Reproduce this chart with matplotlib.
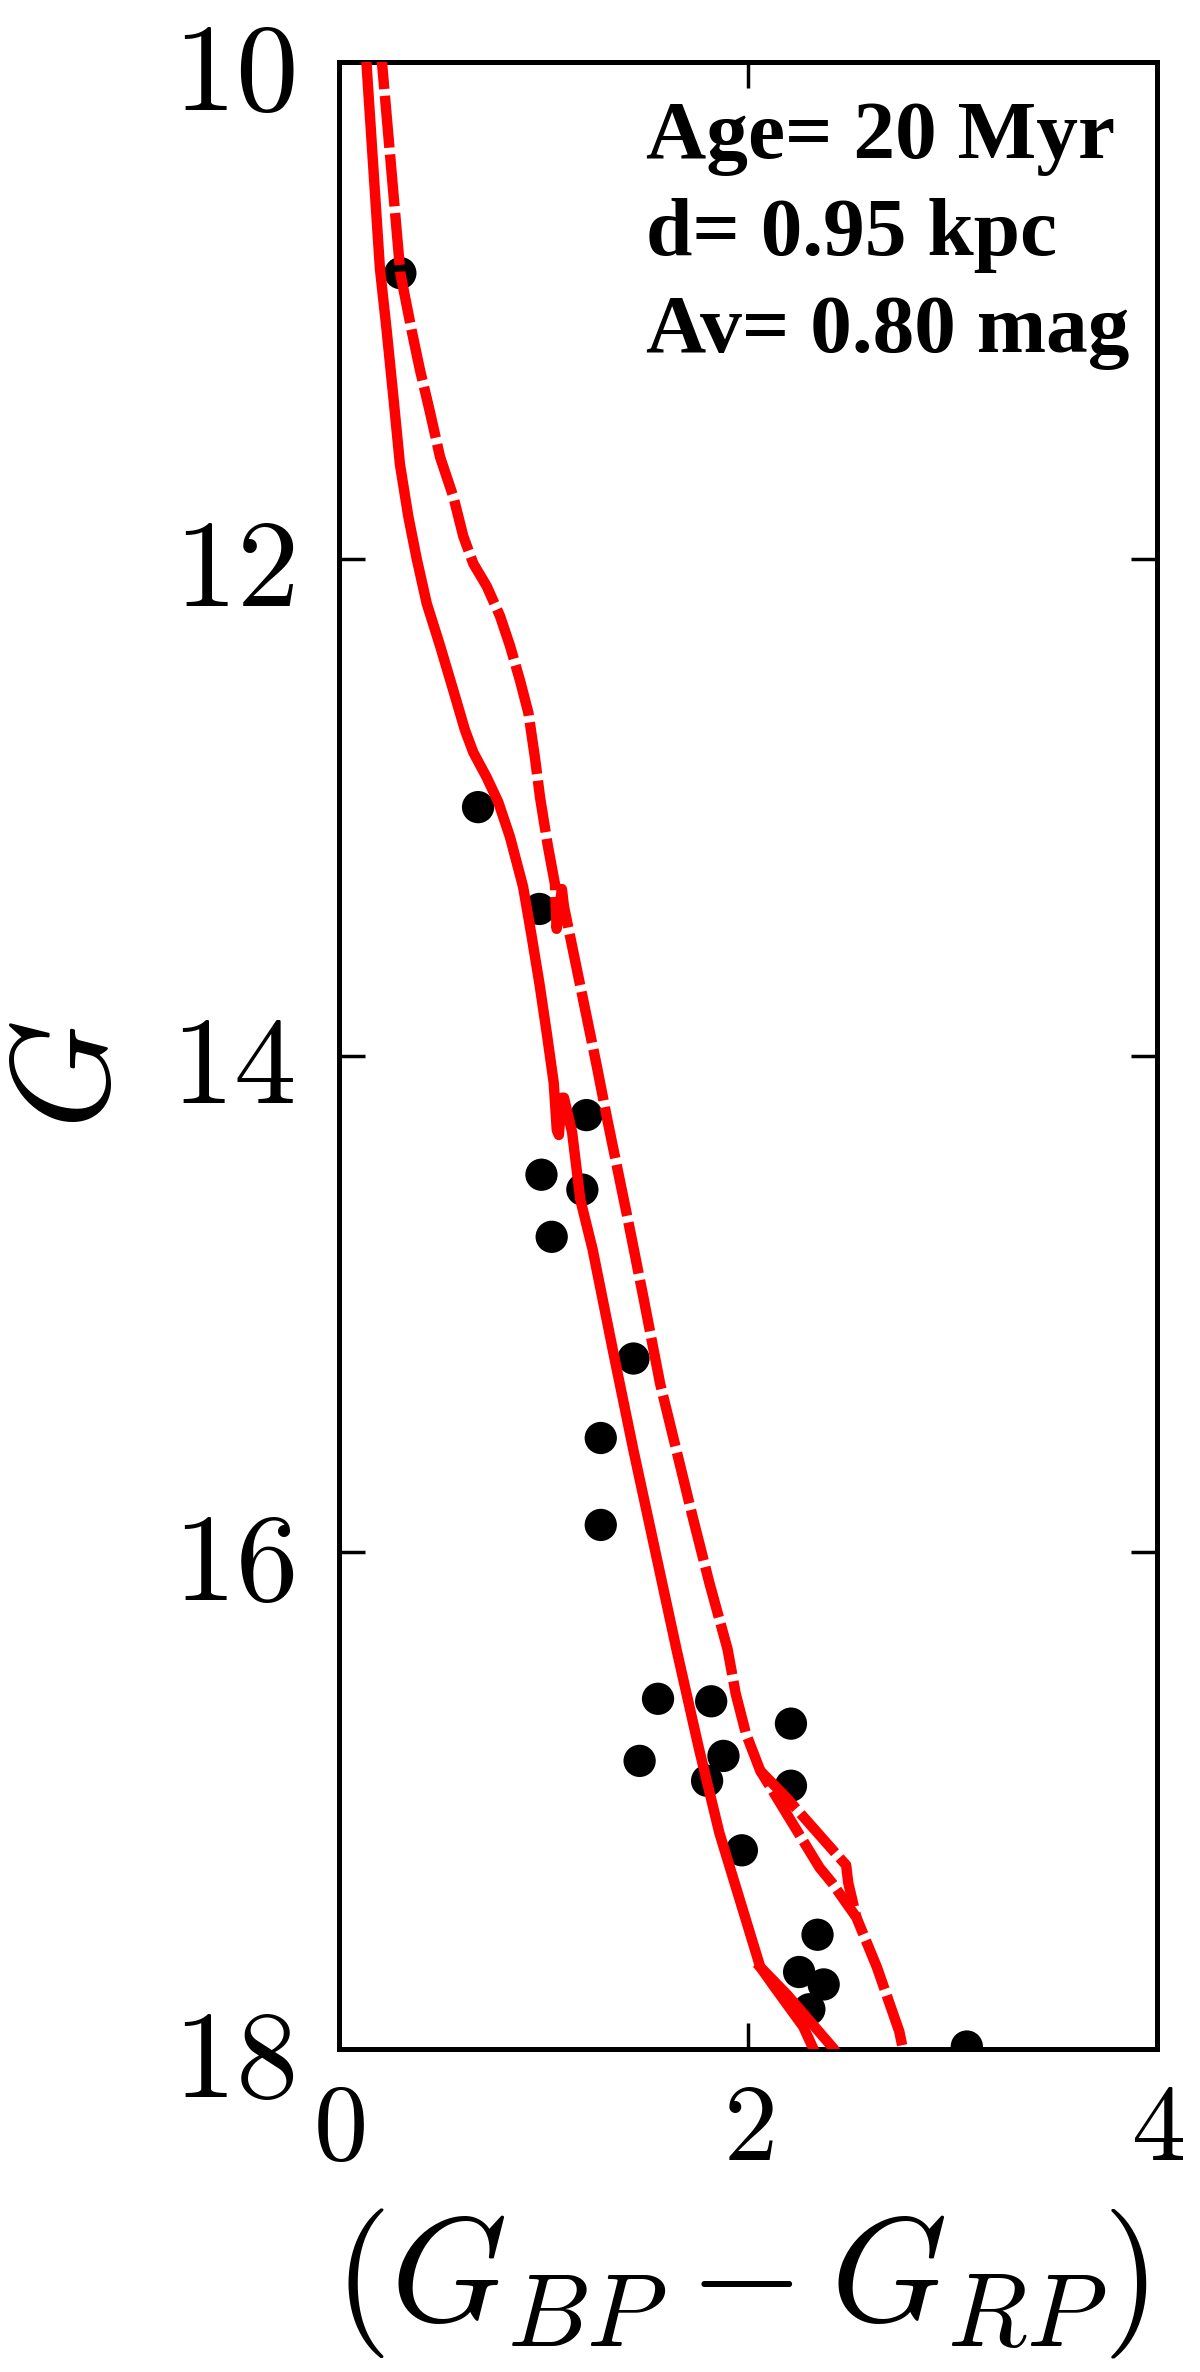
import matplotlib
matplotlib.use("Agg")
import matplotlib.pyplot as plt

# ---------------- data ----------------
# observed stars: colour (G_BP - G_RP) and G magnitude
star_color = [0.30, 0.68, 0.98, 1.21, 0.99, 1.19, 1.04, 1.44, 1.28, 1.28,
              1.56, 1.82, 2.21, 1.47, 1.88, 1.80, 2.21, 1.97, 2.34, 2.25,
              2.37, 2.30, 3.07]
star_mag = [10.85, 13.00, 13.41, 14.24, 14.48, 14.54, 14.73, 15.22, 15.54, 15.89,
            16.59, 16.60, 16.69, 16.84, 16.82, 16.92, 16.94, 17.20, 17.54, 17.69,
            17.74, 17.84, 17.99]

# isochrone (solid) - main track
iso_color = [0.13, 0.134, 0.20, 0.233, 0.266, 0.298, 0.339, 0.38, 0.429, 0.494,
             0.559, 0.616, 0.657, 0.722, 0.779, 0.836, 0.90, 0.94, 0.98, 1.016,
             1.05, 1.065, 1.075, 1.09, 1.10, 1.14, 1.18, 1.24, 1.34, 1.44,
             1.545, 1.65, 1.76, 1.86, 1.96, 2.06, 2.12, 2.27, 2.32, 2.35]
iso_mag = [9.9, 10.0, 10.83, 11.08, 11.35, 11.62, 11.83, 12.00, 12.18, 12.35,
           12.53, 12.69, 12.78, 12.88, 12.98, 13.12, 13.32, 13.51, 13.71, 13.91,
           14.11, 14.30, 14.32, 14.17, 14.17, 14.31, 14.58, 14.78, 15.19, 15.59,
           15.99, 16.39, 16.79, 17.13, 17.40, 17.67, 17.74, 17.91, 18.0, 18.05]
# isochrone (solid) - second branch
iso2_color = [2.06, 2.19, 2.42, 2.45]
iso2_mag = [17.67, 17.78, 18.0, 18.04]

# binary sequence (dashed) - main track
bin_color = [0.20, 0.21, 0.30, 0.355, 0.396, 0.445, 0.494, 0.559, 0.608, 0.657,
             0.722, 0.787, 0.836, 0.885, 0.926, 0.958, 0.983, 1.02, 1.056, 1.064,
             1.09, 1.10, 1.16, 1.21, 1.26, 1.31, 1.36, 1.41, 1.49, 1.57,
             1.65, 1.73, 1.81, 1.90, 1.94, 1.99, 2.06, 2.12, 2.35, 2.41,
             2.53, 2.63, 2.74, 2.77]
bin_mag = [9.9, 10.0, 10.85, 11.08, 11.24, 11.41, 11.59, 11.75, 11.91, 12.02,
           12.11, 12.23, 12.35, 12.49, 12.62, 12.80, 12.96, 13.15, 13.31, 13.49,
           13.33, 13.40, 13.64, 13.84, 14.04, 14.25, 14.45, 14.65, 14.98, 15.32,
           15.59, 15.86, 16.12, 16.39, 16.57, 16.73, 16.88, 16.96, 17.27, 17.33,
           17.47, 17.67, 17.93, 18.05]
# binary sequence (dashed) - second branch
bin2_color = [2.06, 2.19, 2.48, 2.49, 2.53]
bin2_mag = [16.88, 16.99, 17.26, 17.33, 17.47]

x_ticks = [0, 2, 4]
y_ticks = [10, 12, 14, 16, 18]
x_ticklabels = [r"$0$", r"$2$", r"$4$"]
y_ticklabels = [r"$10$", r"$12$", r"$14$", r"$16$", r"$18$"]
info_lines = ["Age= 20 Myr", "d= 0.95 kpc", "Av= 0.80 mag"]

# ---------------- figure ----------------
plt.rcParams["mathtext.fontset"] = "cm"

fig = plt.figure(figsize=(12, 23.72), dpi=100)
ax = fig.add_axes([0.2825, 0.13617, 0.68167, 0.83769])

ax.scatter(star_color, star_mag, s=540, color="black", edgecolors="none", zorder=2)

red = "#ff0000"
lw = 7.5
ax.plot(iso_color, iso_mag, color=red, lw=lw, solid_joinstyle="round",
        solid_capstyle="butt", zorder=3)
ax.plot(iso2_color, iso2_mag, color=red, lw=lw, solid_joinstyle="round", zorder=3)
ax.plot(bin_color, bin_mag, color=red, lw=lw, dashes=(5.0, 0.65), zorder=3)
ax.plot(bin2_color, bin2_mag, color=red, lw=lw, dashes=(5.0, 0.65), zorder=3)

ax.set_xlim(0, 4)
ax.set_ylim(18, 10)

ax.set_xticks(x_ticks)
ax.set_xticklabels(x_ticklabels)
ax.set_yticks(y_ticks)
ax.set_yticklabels(y_ticklabels)

ax.tick_params(axis="both", which="major", direction="in", length=19, width=2.5,
               top=True, right=True, color="black")
ax.tick_params(axis="x", labelsize=78, pad=20)
ax.tick_params(axis="y", labelsize=90, pad=32)

for sp in ax.spines.values():
    sp.set_linewidth(3.6)
    sp.set_color("black")

ax.set_xlabel(r"$(G_{BP} - G_{RP})$", fontsize=107, va="center", ha="center")
ax.xaxis.set_label_coords(0.49, -0.1178)
ax.set_ylabel(r"$G$", fontsize=100, va="center", ha="center",
              rotation=90, rotation_mode="anchor")
ax.yaxis.set_label_coords(-0.328, 0.49)

baselines = [0.9517, 0.9029, 0.8541]
for txt, yb in zip(info_lines, baselines):
    ax.text(0.375, yb, txt, transform=ax.transAxes, fontsize=60,
            fontfamily="Liberation Serif", fontweight="bold",
            ha="left", va="baseline", zorder=4)

fig.savefig("out.png", dpi=100, facecolor="white")
